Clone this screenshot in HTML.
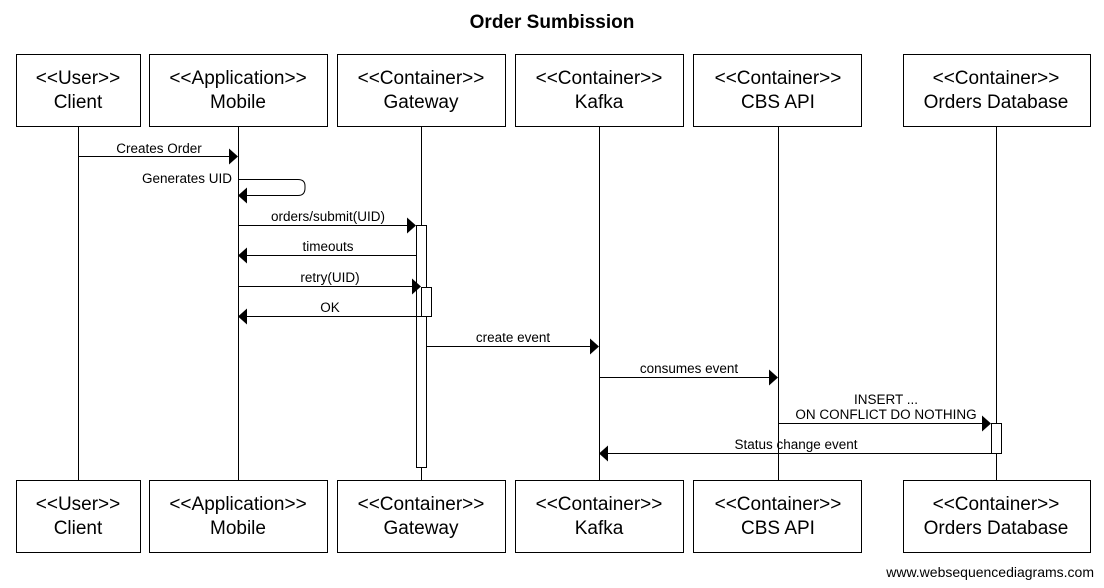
<!DOCTYPE html>
<html><head><meta charset="utf-8"><style>html,body{margin:0;padding:0;background:#fff;width:1104px;height:588px;overflow:hidden}</style></head>
<body>
<svg width="1104" height="588" xmlns="http://www.w3.org/2000/svg" font-family="Liberation Sans, sans-serif">
<rect width="1104" height="588" fill="#fff"/>
<text x="552" y="28" text-anchor="middle" font-size="19" font-weight="bold">Order Sumbission</text>
<g stroke="#000" stroke-width="1" fill="none">
<line x1="78.5" y1="127" x2="78.5" y2="480"/>
<line x1="238.5" y1="127" x2="238.5" y2="480"/>
<line x1="421.5" y1="127" x2="421.5" y2="480"/>
<line x1="599.5" y1="127" x2="599.5" y2="480"/>
<line x1="778.5" y1="127" x2="778.5" y2="480"/>
<line x1="996.5" y1="127" x2="996.5" y2="480"/>
</g>
<g stroke="#000" stroke-width="1" fill="#fff">
<rect x="16.5" y="54.5" width="124" height="72"/>
<rect x="149.5" y="54.5" width="178" height="72"/>
<rect x="337.5" y="54.5" width="168" height="72"/>
<rect x="515.5" y="54.5" width="168" height="72"/>
<rect x="693.5" y="54.5" width="168" height="72"/>
<rect x="903.5" y="54.5" width="187" height="72"/>
<rect x="16.5" y="480.5" width="124" height="72"/>
<rect x="149.5" y="480.5" width="178" height="72"/>
<rect x="337.5" y="480.5" width="168" height="72"/>
<rect x="515.5" y="480.5" width="168" height="72"/>
<rect x="693.5" y="480.5" width="168" height="72"/>
<rect x="903.5" y="480.5" width="187" height="72"/>
<rect x="416.5" y="225.5" width="10" height="242"/>
<rect x="421.5" y="287.5" width="10" height="29"/>
<rect x="991.5" y="423.5" width="10" height="30"/>
</g>
<g font-size="19" text-anchor="middle">
<text x="78" y="84">&lt;&lt;User&gt;&gt;</text><text x="78" y="108">Client</text>
<text x="238" y="84">&lt;&lt;Application&gt;&gt;</text><text x="238" y="108">Mobile</text>
<text x="421" y="84">&lt;&lt;Container&gt;&gt;</text><text x="421" y="108">Gateway</text>
<text x="599" y="84">&lt;&lt;Container&gt;&gt;</text><text x="599" y="108">Kafka</text>
<text x="778" y="84">&lt;&lt;Container&gt;&gt;</text><text x="778" y="108">CBS API</text>
<text x="996" y="84">&lt;&lt;Container&gt;&gt;</text><text x="996" y="108">Orders Database</text>
<text x="78" y="510">&lt;&lt;User&gt;&gt;</text><text x="78" y="534">Client</text>
<text x="238" y="510">&lt;&lt;Application&gt;&gt;</text><text x="238" y="534">Mobile</text>
<text x="421" y="510">&lt;&lt;Container&gt;&gt;</text><text x="421" y="534">Gateway</text>
<text x="599" y="510">&lt;&lt;Container&gt;&gt;</text><text x="599" y="534">Kafka</text>
<text x="778" y="510">&lt;&lt;Container&gt;&gt;</text><text x="778" y="534">CBS API</text>
<text x="996" y="510">&lt;&lt;Container&gt;&gt;</text><text x="996" y="534">Orders Database</text>
</g>
<g stroke="#000" stroke-width="1" fill="none">
<line x1="78" y1="156.5" x2="230" y2="156.5"/>
<path d="M238 179.5 H298 Q305 179.5 305 186 V188 Q305 195.5 298 195.5 H246"/>
<line x1="238" y1="225.5" x2="408" y2="225.5"/>
<line x1="416" y1="255.5" x2="246" y2="255.5"/>
<line x1="238" y1="286.5" x2="413" y2="286.5"/>
<line x1="421" y1="316.5" x2="246" y2="316.5"/>
<line x1="426" y1="346.5" x2="591" y2="346.5"/>
<line x1="599" y1="377.5" x2="770" y2="377.5"/>
<line x1="778" y1="423.5" x2="983" y2="423.5"/>
<line x1="991" y1="453.5" x2="607" y2="453.5"/>
</g>
<g fill="#000">
<polygon points="238,156.5 229,148.5 229,164.5"/>
<polygon points="238,195.5 247,187.5 247,203.5"/>
<polygon points="416,225.5 407,217.5 407,233.5"/>
<polygon points="238,255.5 247,247.5 247,263.5"/>
<polygon points="421,286.5 412,278.5 412,294.5"/>
<polygon points="238,316.5 247,308.5 247,324.5"/>
<polygon points="599,346.5 590,338.5 590,354.5"/>
<polygon points="778,377.5 769,369.5 769,385.5"/>
<polygon points="991,423.5 982,415.5 982,431.5"/>
<polygon points="599,453.5 608,445.5 608,461.5"/>
</g>
<g font-size="13.5" text-anchor="middle">
<text x="159" y="153">Creates Order</text>
<text x="232" y="183" text-anchor="end">Generates UID</text>
<text x="328" y="221">orders/submit(UID)</text>
<text x="328" y="251">timeouts</text>
<text x="330" y="282">retry(UID)</text>
<text x="330" y="312">OK</text>
<text x="513" y="342">create event</text>
<text x="689" y="373">consumes event</text>
<text x="886" y="404">INSERT ...</text>
<text x="886" y="419">ON CONFLICT DO NOTHING</text>
<text x="796" y="449">Status change event</text>
</g>
<text x="1094" y="577" text-anchor="end" font-size="14">www.websequencediagrams.com</text>
</svg>
</body></html>
